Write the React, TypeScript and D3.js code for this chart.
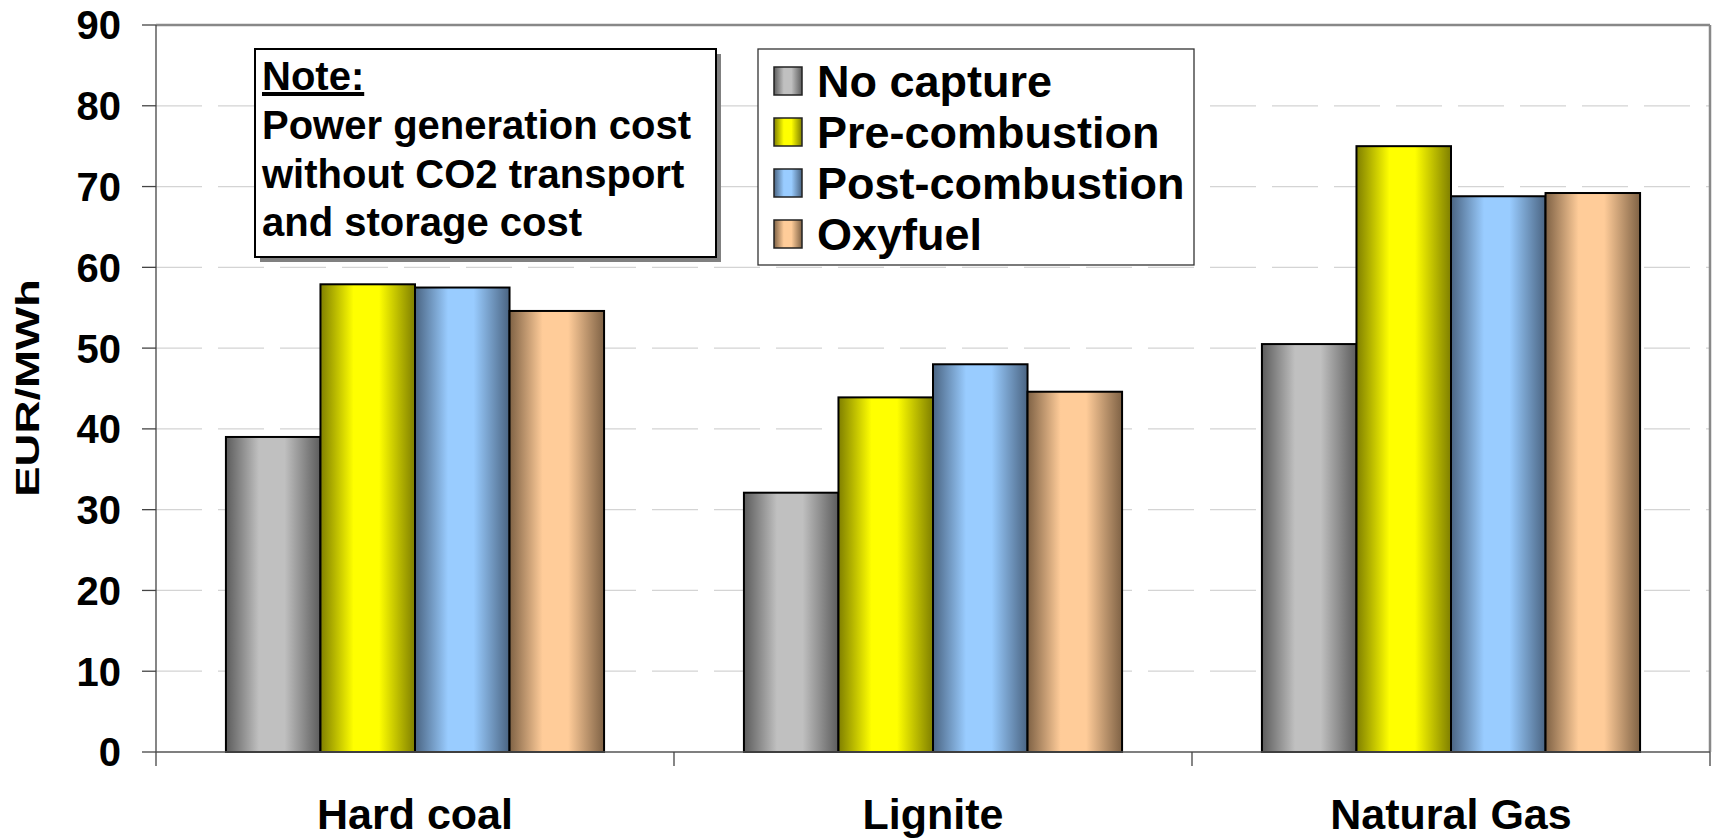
import React from 'react';
import * as d3 from 'd3';

const categories = ['Hard coal', 'Lignite', 'Natural Gas'];
const seriesNames = ['No capture', 'Pre-combustion', 'Post-combustion', 'Oxyfuel'];
const noCapture = [39.0, 32.1, 50.5];
const preCombustion = [57.9, 43.9, 75.0];
const postCombustion = [57.5, 48.0, 68.8];
const oxyfuel = [54.6, 44.6, 69.2];
const yTicks = [0, 10, 20, 30, 40, 50, 60, 70, 80, 90];
const noteTitle = 'Note:';
const noteLines = ['Power generation cost', 'without CO2 transport', 'and storage cost'];
const yTitle = 'EUR/MWh';

const seriesValues = [noCapture, preCombustion, postCombustion, oxyfuel];
// [edge, highlight] for the cylinder-like horizontal gradient
const seriesColors = [
  ['#5c5c5c', '#c0c0c0'],
  ['#7f7f00', '#ffff00'],
  ['#4a6482', '#99ccff'],
  ['#7f6245', '#ffcc99'],
];

const W = 1713;
const H = 839;
const FONT = '"Liberation Sans", Arial, Helvetica, sans-serif';
const plot = { left: 156, right: 1710, top: 25, bottom: 752 };

export default function App() {
  const x = d3.scaleBand().domain(categories).range([plot.left, plot.right]).paddingInner(0.27).paddingOuter(0.135);
  const xs = d3.scaleBand().domain(seriesNames).range([0, x.bandwidth()]);
  const y = d3.scaleLinear().domain([0, 90]).range([plot.bottom, plot.top]);
  const step = (plot.right - plot.left) / categories.length;
  const xTicks = d3.range(categories.length + 1).map(i => plot.left + i * step);

  return (
    <div style={{ position: 'absolute', left: 0, top: 0 }}>
      <svg width={W} height={H} style={{ display: 'block', background: '#fff' }} fontFamily={FONT} fontWeight="bold">
        <defs>
          {seriesColors.map(([dark, light], i) => (
            <linearGradient key={i} id={`grad${i}`} x1="0" x2="1" y1="0" y2="0">
              <stop offset="0%" stopColor={dark} />
              <stop offset="35%" stopColor={light} />
              <stop offset="62%" stopColor={light} />
              <stop offset="100%" stopColor={dark} />
            </linearGradient>
          ))}
        </defs>

        {/* dashed gridlines */}
        {yTicks.filter(t => t > 0 && t < 90).map(t => (
          <line key={t} x1={plot.left} x2={plot.right} y1={y(t)} y2={y(t)}
            stroke="#d4d4d4" strokeWidth={1.3} strokeDasharray="46 16" />
        ))}

        {/* plot frame top / right */}
        <line x1={plot.left} x2={plot.right} y1={plot.top} y2={plot.top} stroke="#888" strokeWidth={2.5} />
        <line x1={plot.right} x2={plot.right} y1={plot.top} y2={plot.bottom} stroke="#888" strokeWidth={2.5} />

        {/* bars */}
        {categories.map((c, ci) => (
          <g key={c} transform={`translate(${x(c)},0)`}>
            {seriesNames.map((s, si) => {
              const v = seriesValues[si][ci];
              return (
                <rect key={s} x={xs(s)} y={y(v)} width={xs.bandwidth()} height={y(0) - y(v)}
                  fill={`url(#grad${si})`} stroke="#000" strokeWidth={2} />
              );
            })}
          </g>
        ))}

        {/* axes */}
        <line x1={plot.left} x2={plot.left} y1={plot.top} y2={plot.bottom} stroke="#444" strokeWidth={1.3} />
        <line x1={plot.left} x2={plot.right} y1={plot.bottom} y2={plot.bottom} stroke="#555" strokeWidth={1.5} />
        {yTicks.map(t => (
          <g key={t}>
            <line x1={plot.left - 14} x2={plot.left} y1={y(t)} y2={y(t)} stroke="#444" strokeWidth={1.3} />
            <text x={121} y={y(t)} dy="0.36em" textAnchor="end" fontSize={40} fill="#000">{t}</text>
          </g>
        ))}
        {xTicks.map((t, i) => (
          <line key={i} x1={t} x2={t} y1={plot.bottom} y2={plot.bottom + 14} stroke="#444" strokeWidth={1.3} />
        ))}
        {categories.map(c => (
          <text key={c} x={(x(c) as number) + x.bandwidth() / 2} y={829} textAnchor="middle" fontSize={43} fill="#000">{c}</text>
        ))}

        <text transform="translate(39,388) rotate(-90) scale(1.34,1)" textAnchor="middle" fontSize={34} fill="#000">{yTitle}</text>

        {/* note box */}
        <rect x={260} y={54} width={461} height={208} fill="#808080" />
        <rect x={255} y={49} width={461} height={208} fill="#fff" stroke="#000" strokeWidth={2} />
        <text x={262} y={90} fontSize={40} textDecoration="underline" fill="#000">{noteTitle}</text>
        {noteLines.map((l, i) => (
          <text key={l} x={262} y={139 + i * 48.5} fontSize={40} fill="#000">{l}</text>
        ))}

        {/* legend */}
        <rect x={758} y={49} width={436} height={216} fill="#fff" stroke="#333" strokeWidth={1.3} />
        {seriesNames.map((s, i) => {
          const cy = 81 + i * 51;
          return (
            <g key={s}>
              <rect x={774} y={cy - 14} width={28} height={28} fill={`url(#grad${i})`} stroke="#222" strokeWidth={1.5} />
              <text x={817} y={cy} dy="0.36em" fontSize={45} fill="#000">{s}</text>
            </g>
          );
        })}
      </svg>
    </div>
  );
}
